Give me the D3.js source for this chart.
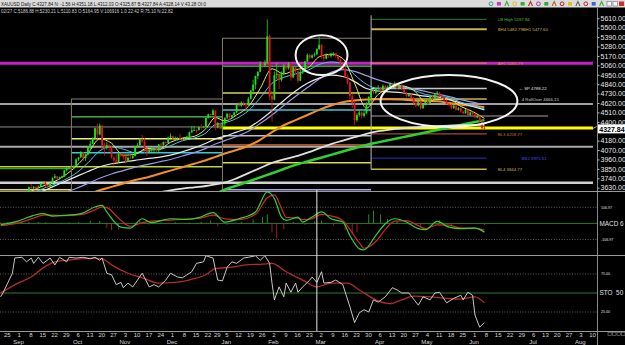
<!DOCTYPE html>
<html>
<head>
<meta charset="utf-8">
<title>XAUUSD Daily</title>
<script src="https://cdn.jsdelivr.net/npm/d3@7"></script>
<style>
  html, body { margin: 0; padding: 0; background: #000; }
  svg { display: block; font-family: "Liberation Sans", Arial, sans-serif; }
</style>
</head>
<body>
<div id="chart"></div>
<script>
// ---------- data ----------
const holidays = ["2025-12-25", "2026-01-01"];
const firstBar = "2025-09-01";
const firstOpen = 3448;

// daily bars, one row per week (Mon..Fri)
const closes = [
  3475,3533,3560,3545,3587, 3636,3625,3640,3634,3643, 3680,3690,3660,3644,3685, 3746,3763,3736,3749,3760,
  3833,3858,3866,3856,3886, 3960,3985,4041,3975,4018, 4110,4142,4209,4326,4252, 4356,4125,4095,4125,4112,
  3983,3950,3930,4025,4002, 4000,3932,3980,3977,4000, 4115,4127,4195,4171,4085, 4045,4067,4077,4080,4065,
  4135,4130,4164,4155,4218, 4232,4205,4205,4208,4198, 4190,4208,4228,4278,4300, 4304,4302,4340,4332,4340,
  4445,4488,4480,4532, 4332,4385,4320,4380,
  4448,4495,4455,4478,4510, 4596,4588,4625,4615,4595, 4670,4765,4835,4935,4985, 5080,5060,5090,5400,4700,
  4660,4945,4960,4890,4965, 5060,5025,5085,4920,5040, 4990,4880,4980,5000,5105, 5180,5150,5175,5190,5250,
  5300,5160,5140,5180,5170, 5180,5200,5170,5130,5080, 5020,4930,4860,4700,4620, 4420,4480,4510,4470,4500,
  4620,4690,4760,4740,4790, 4800,4770,4820,4790,4810, 4840,4810,4850,4790,4830, 4780,4740,4700,4720,4680,
  4620,4590,4640,4560,4600, 4650,4610,4700,4670,4720, 4740,4700,4680,4650,4610, 4600,4560,4590,4540,4560,
  4520,4500,4540,4480,4510, 4490,4450,4470,4410,4329.4, 4327.84
];
const highs = [
  3490,3546,3578,3565,3600, 3646,3674,3650,3654,3656, 3686,3703,3707,3670,3690, 3750,3791,3768,3760,3765,
  3836,3872,3876,3875,3890, 3975,3990,4059,4045,4022, 4116,4179,4218,4332,4379, 4381,4360,4160,4160,4140,
  4115,3995,4030,4050,4040, 4030,4010,3995,4020,4025, 4120,4150,4210,4245,4210, 4095,4080,4100,4095,4090,
  4140,4155,4170,4170,4225, 4265,4240,4230,4220,4260, 4210,4215,4230,4285,4350, 4350,4315,4345,4370,4350,
  4450,4498,4495,4550, 4535,4400,4390,4405,
  4450,4500,4500,4480,4515, 4610,4630,4640,4630,4620, 4690,4770,4890,4940,4990, 5110,5100,5120,5597,5420,
  4760,4990,5090,4970,4990, 5080,5070,5100,5090,5050, 5045,4995,5005,5010,5110, 5200,5195,5190,5210,5260,
  5390,5310,5185,5200,5195, 5210,5215,5205,5180,5140, 5095,5040,4950,4870,4730, 4640,4500,4540,4520,4530,
  4630,4700,4780,4770,4800, 4830,4810,4840,4830,4825, 4860,4850,4870,4860,4840, 4845,4790,4750,4735,4730,
  4690,4635,4650,4650,4610, 4665,4660,4710,4715,4730, 4760,4750,4715,4690,4660, 4625,4610,4600,4600,4575,
  4570,4530,4550,4545,4520, 4520,4500,4480,4475,4420, 4351.18
];
const lows = [
  3436,3468,3510,3530,3540, 3580,3620,3612,3615,3625, 3635,3670,3640,3628,3640, 3680,3735,3720,3722,3740,
  3755,3818,3845,3820,3850, 3880,3940,3978,3945,3945, 4005,4080,4140,4200,4200, 4240,4080,4005,4075,4050,
  3970,3886,3920,3920,3990, 3960,3930,3930,3970,3965, 3995,4100,4120,4150,4035, 4000,4030,4050,4040,4040,
  4040,4110,4120,4145,4150, 4210,4190,4190,4180,4195, 4170,4180,4195,4220,4270, 4290,4265,4300,4310,4325,
  4338,4440,4470,4475, 4300,4325,4310,4315,
  4340,4430,4420,4440,4470, 4500,4570,4575,4585,4535, 4590,4660,4750,4780,4900, 4980,5030,5040,5080,4650,
  4400,4650,4900,4780,4870, 4950,5000,5010,4880,4910, 4970,4860,4875,4960,4990, 5100,5130,5140,5160,5180,
  5240,5140,5110,5130,5150, 5150,5165,5150,5110,5060, 5000,4910,4840,4660,4560, 4360,4400,4460,4440,4450,
  4490,4600,4670,4720,4720, 4770,4750,4760,4775,4780, 4800,4795,4800,4780,4785, 4770,4730,4690,4690,4665,
  4600,4570,4580,4540,4550, 4590,4600,4600,4655,4660, 4710,4690,4665,4640,4595, 4585,4545,4550,4530,4530,
  4505,4490,4495,4470,4470, 4475,4440,4440,4400,4300, 4312.03
];

// moving averages, one value per Monday from 1 Sep 2025 to 8 Jun 2026 (null = under the panel)
const maYellow = [3440,3570,3640,3690,3770,3880,4030,4200,4150,4010,4020,4090,4080,4160,4210,4230,4320,4450,4410,4480,
  4580,4790,5020,4960,5010,5030,5160,5190,5140,4850,4560,4720,4790,4820,4770,4640,4660,4660,4580,4520,4440];
const maCyan = [3470,3540,3610,3660,3720,3800,3920,4060,4110,4080,4040,4070,4075,4120,4180,4210,4270,4370,4390,4440,
  4530,4680,4850,4920,4960,5000,5070,5100,5080,4950,4840,4790,4790,4800,4770,4720,4700,4680,4630,4590,4550];
const maWhite = [3450,3520,3580,3640,3700,3760,3820,3875,3910,3930,3950,3970,3985,4010,4050,4095,4150,4200,4230,4280,
  4330,4420,4530,4650,4760,4850,4910,4945,4930,4870,4790,4760,4750,4740,4720,4700,4690,4660,4620,4580,4540];
const maLavender = [3380,3420,3470,3520,3570,3620,3680,3740,3790,3830,3870,3900,3930,3960,4000,4040,4090,4140,4180,4230,
  4290,4380,4480,4590,4700,4800,4900,4980,5010,4990,4940,4890,4850,4815,4785,4755,4725,4695,4660,4630,4600];
const maOrange = [null,null,null,null,null,null,3550,3600,3640,3680,3720,3750,3790,3830,3870,3910,3950,3990,4030,4070,
  4120,4190,4280,4360,4420,4480,4540,4590,4630,4650,4660,4665,4665,4660,4650,4645,4640,4620,4600,4590,4570];
const maWhiteSlow = [null,null,null,null,null,null,null,null,null,null,null,null,3575,3600,3620,3635,3650,3670,3690,3740,
  3800,3860,3920,3960,3995,4040,4090,4140,4180,4220,4260,4290,4310,4325,4335,4345,4350,4355,4360,4362,4365];
const maGreen = [null,null,null,null,null,null,null,null,null,null,null,null,null,null,null,null,null,3557,3607,3655,
  3703,3751,3799,3848,3897,3936,3975,4014,4053,4092,4130,4160,4189,4218,4247,4276,4305,4334,4363,4392,4420];

// horizontal levels drawn on the chart
const levels = [
  { id: "magenta", price: 5085.79, from: "2025-08-18", to: "2026-08-11" },
  { id: "grayA", price: 4608, from: "2025-08-18", to: "2026-08-11" },
  { id: "grayB", price: 4108, from: "2025-08-18", to: "2026-08-11" },
  { id: "whiteC", price: 3688, from: "2025-08-18", to: "2026-08-11" },
  { id: "grayThin", price: 4340, from: "2025-08-18", to: "2026-01-02" },
  { id: "yellowGreen", price: 3875, from: "2025-08-18", to: "2026-01-02" },
  { id: "greenLow", price: 3852, from: "2025-08-18", to: "2025-10-02" },
  { id: "yellowLow", price: 3607, from: "2025-08-18", to: "2025-10-02" },
  { id: "boxTop", price: 4667, from: "2025-10-02", to: "2026-01-02" },
  { id: "green1", price: 4457, from: "2025-10-02", to: "2026-01-02" },
  { id: "yellow1", price: 4201, from: "2025-10-02", to: "2026-01-02" },
  { id: "cyan1", price: 4038, from: "2025-10-02", to: "2026-01-02" },
  { id: "lavender", price: 3607, from: "2026-01-02", to: "2026-04-01" },
  { id: "boxTop", price: 5377, from: "2026-01-02", to: "2026-04-01" },
  { id: "green1", price: 5051, from: "2026-01-02", to: "2026-04-01" },
  { id: "khaki2", price: 4737, from: "2026-01-02", to: "2026-04-01" },
  { id: "cyan1", price: 4538, from: "2026-01-02", to: "2026-04-01" },
  { id: "gray2", price: 4236, from: "2026-01-02", to: "2026-04-01" },
  { id: "brown2", price: 4130, from: "2026-01-02", to: "2026-04-01" },
  { id: "yellow2", price: 3921, from: "2026-01-02", to: "2026-04-01" },
  { id: "grayMid", price: 4469, from: "2026-04-01", to: "2026-07-15" },
  { id: "current", price: 4327.84, from: "2026-01-02", to: "2026-08-11" },
  { id: "lbHigh", price: 5597.84, from: "2026-04-01", to: "2026-06-09", label: "LB High 5597.84" },
  { id: "bh4", price: 5482.79, from: "2026-04-01", to: "2026-06-09", label: "BH4 5482.79" },
  { id: "ah1", price: 5085.79, from: "2026-04-01", to: "2026-06-09", label: "AH1 5085.79" },
  { id: "sp", price: 4788.22, from: "2026-04-01", to: "2026-06-09", label: "\u2190 SP 4788.22" },
  { id: "roll", price: 4666.15, from: "2026-04-01", to: "2026-06-09", label: "4 RollOver 4666.15" },
  { id: "bl3", price: 4258.77, from: "2026-04-01", to: "2026-06-09", label: "BL3 4258.77" },
  { id: "bs1", price: 3975.61, from: "2026-04-01", to: "2026-06-09", label: "BS1 3975.61" },
  { id: "bl4", price: 3844.77, from: "2026-04-01", to: "2026-06-09", label: "BL4 3844.77" }
];
const extraLabels = [{ id: "bh1", price: 5477.60, at: "2026-06-09", label: "BH1 5477.60" }];
const dividers = [
  { date: "2025-10-02", top: 4667, bottom: 3590 },
  { date: "2026-01-02", top: 5377, bottom: 3590 },
  { date: "2026-04-01", top: 5645, bottom: 3844.77 }
];
const rings = [
  { from: "2026-02-16", to: "2026-03-18", hi: 5412, lo: 4946 },
  { from: "2026-04-07", to: "2026-06-26", hi: 4946, lo: 4340 }
];

// MACD
const macdDates = ["2025-08-21","2025-09-01","2025-09-10","2025-09-16","2025-09-22","2025-09-29","2025-10-08","2025-10-16",
  "2025-10-21","2025-10-23","2025-10-31","2025-11-06","2025-11-13","2025-11-19","2025-12-01","2025-12-10","2025-12-17",
  "2025-12-26","2026-01-05","2026-01-13","2026-01-22","2026-01-29","2026-02-03","2026-02-06","2026-02-10","2026-02-17",
  "2026-02-19","2026-02-25","2026-03-03","2026-03-09","2026-03-16","2026-03-19","2026-03-25","2026-03-27","2026-04-03",
  "2026-04-09","2026-04-15","2026-04-22","2026-04-29","2026-05-04","2026-05-11","2026-05-18","2026-05-25","2026-06-02","2026-06-08"];
const macdLine = [-9,13,53,65,49,53,65,109,120,76,-25,-31,31,5,31,27,38,72,9,31,76,209,165,42,20,42,9,42,76,31,9,-80,-169,-176,
  -80,-2,31,9,-35,-42,13,-25,-35,-31,-58];
const macdSignal = [-15,2,35,55,55,52,58,90,110,105,20,-20,5,15,22,28,33,55,30,25,60,170,190,100,40,35,25,32,60,50,20,-40,-130,
  -165,-120,-40,15,18,-15,-35,-10,-12,-30,-32,-45];
const histDates = ["2025-08-21","2025-08-26","2025-08-29","2025-09-03","2025-09-08","2025-09-12","2025-09-17","2025-09-23",
  "2025-09-26","2025-10-01","2025-10-07","2025-10-14","2025-10-20","2025-10-23","2025-10-27","2025-10-30","2025-11-04",
  "2025-11-12","2025-11-18","2025-11-25","2025-12-03","2025-12-11","2025-12-18","2025-12-24","2025-12-30","2026-01-06",
  "2026-01-14","2026-01-21","2026-01-27","2026-01-29","2026-02-02","2026-02-04","2026-02-09","2026-02-13","2026-02-20",
  "2026-02-26","2026-03-03","2026-03-10","2026-03-17","2026-03-20","2026-03-24","2026-03-31","2026-04-02","2026-04-07",
  "2026-04-10","2026-04-16","2026-04-23","2026-04-30","2026-05-06","2026-05-12","2026-05-19","2026-05-27","2026-06-03","2026-06-08"];
const histValues = [5,8,10,12,10,8,6,-4,4,6,8,18,15,-30,-45,-40,-12,20,-8,6,8,5,10,20,-20,-10,10,25,45,60,
  -60,-100,-40,10,-10,12,18,-15,-45,-70,-60,60,85,60,30,15,-10,-20,-8,20,-10,-5,-5,-12];

// stochastic
const stoK = [["2025-08-21",45],["2025-08-22",50],["2025-08-26",63],["2025-08-28",76],["2025-08-29",96],["2025-09-03",97],
  ["2025-09-05",91],["2025-09-09",96],["2025-09-10",89],["2025-09-12",97],["2025-09-16",89],["2025-09-19",96],["2025-09-23",87],
  ["2025-09-25",97],["2025-09-30",91],["2025-10-01",97],["2025-10-06",96],["2025-10-09",97],["2025-10-14",95],["2025-10-16",97],
  ["2025-10-20",93],["2025-10-21",96],["2025-10-23",76],["2025-10-27",74],["2025-10-29",61],["2025-10-31",64],["2025-11-03",57],
  ["2025-11-05",63],["2025-11-07",58],["2025-11-11",67],["2025-11-13",76],["2025-11-14",70],["2025-11-18",58],["2025-11-20",61],
  ["2025-11-24",58],["2025-11-27",67],["2025-12-01",76],["2025-12-04",71],["2025-12-08",70],["2025-12-12",78],["2025-12-16",89],
  ["2025-12-19",91],["2025-12-22",99],["2025-12-26",96],["2025-12-30",67],["2026-01-02",66],["2026-01-06",84],["2026-01-08",91],
  ["2026-01-12",89],["2026-01-15",96],["2026-01-19",97],["2026-01-22",99],["2026-01-26",93],["2026-01-28",99],["2026-01-30",89],
  ["2026-02-02",63],["2026-02-03",41],["2026-02-05",58],["2026-02-09",45],["2026-02-10",63],["2026-02-12",51],["2026-02-16",63],
  ["2026-02-17",51],["2026-02-19",58],["2026-02-24",67],["2026-02-25",71],["2026-02-27",64],["2026-03-03",78],["2026-03-04",63],
  ["2026-03-09",64],["2026-03-11",67],["2026-03-16",61],["2026-03-19",32],["2026-03-23",11],["2026-03-25",24],["2026-03-27",28],
  ["2026-03-31",25],["2026-04-02",41],["2026-04-06",38],["2026-04-09",45],["2026-04-14",57],["2026-04-16",54],["2026-04-20",50],
  ["2026-04-23",50],["2026-04-29",34],["2026-05-01",45],["2026-05-06",41],["2026-05-08",50],["2026-05-12",51],["2026-05-15",37],
  ["2026-05-20",43],["2026-05-25",47],["2026-05-26",41],["2026-05-28",51],["2026-06-01",47],["2026-06-02",21],["2026-06-04",5],
  ["2026-06-08",11]];
const stoD = [["2025-08-21",50],["2025-09-02",64],["2025-09-09",71],["2025-09-16",83],["2025-09-23",91],["2025-09-30",93],
  ["2025-10-08",95],["2025-10-15",96],["2025-10-21",95],["2025-10-27",87],["2025-11-05",76],["2025-11-13",70],["2025-11-24",63],
  ["2025-12-03",64],["2025-12-12",68],["2025-12-22",74],["2025-12-29",82],["2026-01-08",84],["2026-01-16",87],["2026-01-27",88],
  ["2026-02-02",89],["2026-02-10",78],["2026-02-19",67],["2026-02-27",58],["2026-03-09",63],["2026-03-18",63],["2026-03-25",54],
  ["2026-04-03",41],["2026-04-13",36],["2026-04-20",41],["2026-04-27",46],["2026-05-06",45],["2026-05-15",43],["2026-05-25",42],
  ["2026-06-02",45],["2026-06-08",37]];

// 4290.00 sits under the last-price box, so it is not listed
const priceTicks = [5610,5500,5390,5280,5170,5060,4950,4840,4730,4620,4510,4400,4180,4070,3960,3850,3740,3630];
const lastPrice = 4327.84;
const cursorDate = "2026-02-27";
const headline = "XAUUSD Daily C:4327.84 N: -1.56 H:4351.18 L:4312.03 O:4325.87 B:4327.84 A:4328.14 V:43.28 OI:0";
const subline = "02/27 C:5186.88 H:5230.21 L:5110.83 O:5164.95 V:106916 1.0 22:42 R:75.10 N:22.82";

// ---------- styles ----------
const levelStyle = {
  magenta: { c: "#c81fc8", w: 3 }, grayA: { c: "#a0a0a0", w: 2 }, grayB: { c: "#a8a8a8", w: 2 },
  whiteC: { c: "#d0d0d0", w: 2.5 }, grayThin: { c: "#8a8a8a", w: 1 }, yellowGreen: { c: "#b8d838", w: 1.5 },
  greenLow: { c: "#4cc84c", w: 1 }, yellowLow: { c: "#e8e040", w: 1.5 }, boxTop: { c: "#8b7d6b", w: 1 },
  green1: { c: "#55cc55", w: 1.2 }, yellow1: { c: "#f0f070", w: 1.5 }, cyan1: { c: "#3cc8d8", w: 1.5 },
  lavender: { c: "#a8a8f0", w: 1.5 }, khaki2: { c: "#d8cf6a", w: 1.5 }, gray2: { c: "#c0c0c0", w: 1.5 },
  brown2: { c: "#a0522d", w: 2 }, yellow2: { c: "#e0d850", w: 1.5 }, grayMid: { c: "#6e6e6e", w: 1.5 },
  current: { c: "#ffff00", w: 3 }, lbHigh: { c: "#2e7d32", w: 1 }, bh4: { c: "#c8b44a", w: 2 },
  ah1: { c: "#e08a4a", w: 1 }, sp: { c: "#c8c8c8", w: 1.5 }, roll: { c: "#c8b44a", w: 1.5 },
  bl3: { c: "#c0643a", w: 1 }, bs1: { c: "#2c2ccc", w: 1 }, bl4: { c: "#c8b44a", w: 1.5 }
};
const labelStyle = {
  lbHigh: { c: "#58b858", dx: 11 }, bh4: { c: "#c8b44a", dx: 11 }, bh1: { c: "#c8b44a", dx: 36 },
  ah1: { c: "#e08a4a", dx: 11 }, sp: { c: "#e0e0e0", dx: 32 }, roll: { c: "#d0d0d0", dx: 35 },
  bl3: { c: "#d07040", dx: 11 }, bs1: { c: "#4a4aff", dx: 35 }, bl4: { c: "#c8b44a", dx: 11 }
};
const maStyle = [
  { data: maGreen, c: "#30d030", w: 2.5 }, { data: maWhiteSlow, c: "#e0e0e0", w: 1.8 },
  { data: maOrange, c: "#f0902a", w: 2 }, { data: maLavender, c: "#9a9ae8", w: 1.2 },
  { data: maWhite, c: "#e8e8e8", w: 1.2 }, { data: maCyan, c: "#48c8e8", w: 1 },
  { data: maYellow, c: "#e8e85a", w: 1 }
];
const UP = "#1ee01e", DOWN = "#e01818";

// ---------- scales ----------
const W = 625, H = 345;
const fmt = d3.timeFormat("%Y-%m-%d");
const calendar = d3.timeDay.range(new Date(2025, 7, 18), new Date(2026, 7, 15))
  .filter(d => d.getDay() !== 0 && d.getDay() !== 6 && !holidays.includes(fmt(d)));
const calKeys = calendar.map(fmt);
const slot = k => calKeys.indexOf(k);

const x = d3.scaleLinear().domain([slot("2026-02-02"), slot("2026-08-10")]).range([272, 590.6]);
const xk = k => x(slot(k));
const y = d3.scaleLinear().domain([3630, 5610]).range([187.7, 18.3]);
const yMacd = d3.scaleLinear().domain([-106.97, 106.97]).range([239.5, 207.3]);
const ySto = d3.scaleLinear().domain([0, 100]).range([331, 255]);

const svg = d3.select("#chart").append("svg").attr("width", W).attr("height", H);
svg.append("rect").attr("width", W).attr("height", H).attr("fill", "#000");

const defs = svg.append("defs");
[["clipMain", 13, 178], ["clipMacd", 192, 63], ["clipSto", 256, 75]].forEach(([id, top, h]) => {
  defs.append("clipPath").attr("id", id).append("rect").attr("x", 0).attr("y", top).attr("width", 597).attr("height", h);
});

// ---------- title bar ----------
svg.append("rect").attr("width", W).attr("height", 7.5).attr("fill", "#dcdcdc");
svg.append("text").attr("x", 1).attr("y", 5.6).attr("font-size", 5.4).attr("fill", "#111")
  .attr("textLength", 205).attr("lengthAdjust", "spacingAndGlyphs").text(headline);
svg.append("text").attr("x", 1).attr("y", 12.6).attr("font-size", 4.6).attr("fill", "#cfcfcf")
  .attr("textLength", 172).attr("lengthAdjust", "spacingAndGlyphs").text(subline);

const toolColors = ["#2aa39a", "#c33cc3", "#3aa63a", "#d8c020", "#3aa63a", "#c02020", "#a03ca0", "#3aa63a", "#b06030",
  "#c02020", "#d8c020", "#606060", "#c02020", "#3a6ac0", "#3aa63a"];
const tools = svg.append("g");
toolColors.forEach((c, i) => {
  const tx = 489 + i * 7.9;
  if (i % 3 === 0) tools.append("circle").attr("cx", tx + 2).attr("cy", 3.8).attr("r", 1.9).attr("fill", "none").attr("stroke", c).attr("stroke-width", 1);
  else if (i % 3 === 1) tools.append("rect").attr("x", tx).attr("y", 2).attr("width", 4).attr("height", 3.6).attr("fill", c);
  else tools.append("path").attr("d", `M${tx},6 L${tx + 2},1.5 L${tx + 4},6`).attr("fill", "none").attr("stroke", c).attr("stroke-width", 1.1);
});
[607, 613].forEach(bx => tools.append("rect").attr("x", bx).attr("y", 1.5).attr("width", 4.5).attr("height", 4.5)
  .attr("fill", "#f4f4f4").attr("stroke", "#777").attr("stroke-width", 0.6));
tools.append("rect").attr("x", 619).attr("y", 1.5).attr("width", 5).attr("height", 4.5).attr("fill", "#d03030");

// ---------- main price panel ----------
const main = svg.append("g").attr("clip-path", "url(#clipMain)");

main.append("g").selectAll("line").data(levels).join("line")
  .attr("x1", d => xk(d.from)).attr("x2", d => xk(d.to))
  .attr("y1", d => y(d.price)).attr("y2", d => y(d.price))
  .attr("stroke", d => levelStyle[d.id].c).attr("stroke-width", d => levelStyle[d.id].w);

main.append("g").selectAll("line").data(dividers).join("line")
  .attr("x1", d => xk(d.date)).attr("x2", d => xk(d.date))
  .attr("y1", d => y(d.top)).attr("y2", d => y(d.bottom))
  .attr("stroke", (d, i) => i === 2 ? "#b8b8b8" : "#8b7d6b").attr("stroke-width", 1);

const mondays = d3.timeMonday.range(new Date(2025, 8, 1), new Date(2026, 5, 9)).map(fmt);
const maLine = d3.line().defined(d => d[1] != null).x(d => xk(d[0])).y(d => y(d[1])).curve(d3.curveMonotoneX);
main.append("g").selectAll("path").data(maStyle).join("path")
  .attr("d", s => maLine(mondays.map((m, i) => [m, s.data[i]])))
  .attr("fill", "none").attr("stroke", s => s.c).attr("stroke-width", s => s.w);

const start = slot(firstBar);
const bars = closes.map((c, i) => ({ i: start + i, o: i ? closes[i - 1] : firstOpen, h: highs[i], l: lows[i], c }));
const candles = main.append("g");
candles.selectAll("line").data(bars).join("line")
  .attr("x1", d => x(d.i)).attr("x2", d => x(d.i))
  .attr("y1", d => y(d.h)).attr("y2", d => y(d.l))
  .attr("stroke", d => d.c >= d.o ? UP : DOWN).attr("stroke-width", 0.8);
candles.selectAll("rect").data(bars).join("rect")
  .attr("x", d => x(d.i) - 0.9).attr("width", 1.8)
  .attr("y", d => y(Math.max(d.o, d.c)))
  .attr("height", d => Math.max(0.8, Math.abs(y(d.o) - y(d.c))))
  .attr("fill", d => d.c >= d.o ? UP : DOWN);

main.append("g").selectAll("ellipse").data(rings).join("ellipse")
  .attr("cx", d => (xk(d.from) + xk(d.to)) / 2).attr("rx", d => (xk(d.to) - xk(d.from)) / 2)
  .attr("cy", d => (y(d.hi) + y(d.lo)) / 2).attr("ry", d => (y(d.lo) - y(d.hi)) / 2)
  .attr("fill", "none").attr("stroke", "#f4f4f4").attr("stroke-width", 2);

const labelled = levels.filter(d => d.label).map(d => ({ id: d.id, price: d.price, at: d.to, label: d.label })).concat(extraLabels);
main.append("g").selectAll("text").data(labelled).join("text")
  .attr("x", d => xk(d.at) + labelStyle[d.id].dx).attr("y", d => y(d.price) + 1.6)
  .attr("font-size", 4.3).attr("fill", d => labelStyle[d.id].c).text(d => d.label);

// arrow at the end of the current-price line
svg.append("path").attr("d", `M592,${y(lastPrice) + 1} L596.5,${y(lastPrice) - 1.5}`)
  .attr("stroke", "#e8e8e8").attr("stroke-width", 0.8);

// ---------- right price axis ----------
svg.append("line").attr("x1", 597.5).attr("x2", 597.5).attr("y1", 8).attr("y2", H).attr("stroke", "#8a8a8a");
svg.append("g").attr("transform", "translate(597.5,0)")
  .call(d3.axisRight(y).tickValues(priceTicks).tickFormat(d3.format(".2f")).tickSize(2).tickPadding(1))
  .call(g => g.select(".domain").remove())
  .call(g => g.selectAll("line").attr("stroke", "#bbb"))
  .call(g => g.selectAll("text").attr("fill", "#e6e6e6").attr("font-size", 7)
    .attr("font-family", "'Liberation Sans', Arial, sans-serif"));
svg.append("rect").attr("x", 598).attr("y", y(lastPrice) - 3.6).attr("width", 27).attr("height", 9).attr("fill", "#fff");
svg.append("text").attr("x", 599.3).attr("y", y(lastPrice) + 3.9).attr("font-size", 7).attr("font-weight", "bold")
  .attr("fill", "#000").text(d3.format(".2f")(lastPrice));

// ---------- panel separators ----------
[191.5, 255.5, 331.5].forEach(py => svg.append("line").attr("x1", 0).attr("x2", W).attr("y1", py).attr("y2", py)
  .attr("stroke", "#9a9a9a").attr("stroke-width", 1));

// ---------- MACD ----------
const macdG = svg.append("g").attr("clip-path", "url(#clipMacd)");
[106.97, -106.97].forEach(v => macdG.append("line").attr("x1", 0).attr("x2", 597).attr("y1", yMacd(v)).attr("y2", yMacd(v))
  .attr("stroke", "#8a8a8a").attr("stroke-width", 0.7).attr("stroke-dasharray", "1,1.6"));
macdG.append("line").attr("x1", 0).attr("x2", 597).attr("y1", yMacd(0)).attr("y2", yMacd(0))
  .attr("stroke", "#2f7a2f").attr("stroke-width", 1);
macdG.append("g").selectAll("line").data(histDates.map((d, i) => [d, histValues[i]])).join("line")
  .attr("x1", d => xk(d[0])).attr("x2", d => xk(d[0]))
  .attr("y1", yMacd(0)).attr("y2", d => yMacd(d[1]))
  .attr("stroke", d => d[1] >= 0 ? "#2e9a2e" : "#b22222").attr("stroke-width", 0.9);
const macdPath = d3.line().x(d => xk(d[0])).y(d => yMacd(d[1])).curve(d3.curveMonotoneX);
macdG.append("path").attr("d", macdPath(macdDates.map((d, i) => [d, macdSignal[i]])))
  .attr("fill", "none").attr("stroke", "#d02828").attr("stroke-width", 1.2);
macdG.append("path").attr("d", macdPath(macdDates.map((d, i) => [d, macdLine[i]])))
  .attr("fill", "none").attr("stroke", "#32d232").attr("stroke-width", 1.2);

// ---------- stochastic ----------
const stoG = svg.append("g").attr("clip-path", "url(#clipSto)");
[75, 25].forEach(v => stoG.append("line").attr("x1", 0).attr("x2", 597).attr("y1", ySto(v)).attr("y2", ySto(v))
  .attr("stroke", "#8a8a8a").attr("stroke-width", 0.7).attr("stroke-dasharray", "1,1.6"));
stoG.append("line").attr("x1", 0).attr("x2", 597).attr("y1", ySto(50)).attr("y2", ySto(50))
  .attr("stroke", "#2f7a2f").attr("stroke-width", 1);
stoG.append("path").attr("d", d3.line().x(d => xk(d[0])).y(d => ySto(d[1])).curve(d3.curveMonotoneX)(stoD))
  .attr("fill", "none").attr("stroke", "#b52a2a").attr("stroke-width", 1.3);
stoG.append("path").attr("d", d3.line().x(d => xk(d[0])).y(d => ySto(d[1]))(stoK))
  .attr("fill", "none").attr("stroke", "#dcdcdc").attr("stroke-width", 0.9);

// indicator labels on the right
const sideText = [
  [yMacd(106.97) + 1.2, "106.97", 3.6, 601], [yMacd(0) + 2.4, "MACD 6", 6.4, 599.5], [yMacd(-106.97) + 1.2, "-106.97", 3.6, 601],
  [ySto(75) + 1.2, "75.00", 3.6, 601], [ySto(50) + 2.4, "STO  50", 6.4, 599.5], [ySto(25) + 1.2, "25.00", 3.6, 601]
];
svg.append("g").selectAll("text").data(sideText).join("text")
  .attr("x", d => d[3]).attr("y", d => d[0]).attr("font-size", d => d[2]).attr("fill", "#e0e0e0")
  .attr("xml:space", "preserve").text(d => d[1]);

// cursor line through the indicator panels
svg.append("line").attr("x1", xk(cursorDate)).attr("x2", xk(cursorDate)).attr("y1", 190).attr("y2", 331)
  .attr("stroke", "#e8e8e8").attr("stroke-width", 1);

// ---------- date axis ----------
const weekTicks = d3.timeMonday.range(new Date(2025, 7, 25), new Date(2026, 7, 11)).map(fmt);
svg.append("g").attr("transform", "translate(1.5,331)")
  .call(d3.axisBottom(x).tickValues(weekTicks.map(slot)).tickFormat(i => +calKeys[i].slice(8)).tickSize(0).tickPadding(2.2))
  .call(g => g.select(".domain").remove())
  .call(g => g.selectAll("text").attr("fill", "#d6d6d6").attr("font-size", 6)
    .attr("font-family", "'Liberation Sans', Arial, sans-serif"));
const monthFmt = d3.timeFormat("%b");
svg.append("g").selectAll("text").data(weekTicks.filter(k => +k.slice(8) <= 7)).join("text")
  .attr("x", k => xk(k) + 1.5).attr("y", 344.2).attr("text-anchor", "middle")
  .attr("font-size", 6).attr("fill", "#d6d6d6").text(k => monthFmt(new Date(k + "T12:00:00")));
[608, 612.5, 617, 621.5].forEach(bx => svg.append("rect").attr("x", bx).attr("y", 332.5).attr("width", 3.5).attr("height", 3)
  .attr("fill", "none").attr("stroke", "#999").attr("stroke-width", 0.5));
</script>
</body>
</html>
